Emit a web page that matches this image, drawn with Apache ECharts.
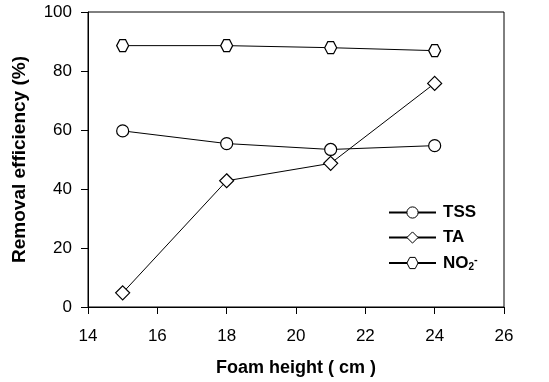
<!DOCTYPE html>
<html>
<head>
<meta charset="utf-8">
<script src="https://cdn.jsdelivr.net/npm/echarts@6/dist/echarts.min.js"></script>
<style>
  html, body { margin: 0; padding: 0; background: #fff; }
  #main { width: 549px; height: 382px; }
</style>
</head>
<body>
<div id="main"></div>
<script>
// foam height (cm)
var foamHeight = [15, 18, 21, 24];
// removal efficiency (%)
var tssValues = [59.7, 55.4, 53.4, 54.7];
var taValues = [4.8, 42.8, 48.7, 75.8];
var no2Values = [88.6, 88.6, 87.9, 86.9];
var seriesNames = ['TSS', 'TA', 'NO2'];

var hexagon = 'path://M0,5 L2.6,0.5 L7.4,0.5 L10,5 L7.4,9.5 L2.6,9.5 Z';

function pairs(xs, ys) {
    var out = [];
    for (var i = 0; i < xs.length; i++) {
        out.push([xs[i], ys[i]]);
    }
    return out;
}

function lineSeries(name, values, symbol, size) {
    return {
        name: name,
        type: 'line',
        data: pairs(foamHeight, values),
        symbol: symbol,
        symbolSize: size,
        showAllSymbol: true,
        lineStyle: { color: '#000', width: 1 },
        itemStyle: { color: '#fff', borderColor: '#000', borderWidth: 1.2 },
        emphasis: { disabled: true },
        animation: false
    };
}

var chart = echarts.init(document.getElementById('main'));

var option = {
    backgroundColor: '#fff',
    animation: false,
    grid: {
        left: 88, right: 45, top: 12, bottom: 75,
        outerBoundsMode: 'none',
        containLabel: false,
        show: true,
        borderColor: '#000',
        borderWidth: 1
    },
    legend: {
        orient: 'vertical',
        left: 383,
        top: 199,
        itemWidth: 47,
        itemHeight: 14,
        itemGap: 8,
        itemGap: 8,
        data: seriesNames,
        itemStyle: { borderWidth: 1 },
        formatter: function (name) {
            if (name === 'NO2') return '{a|NO}{sub|2}{sup|-}';
            return '{a|' + name + '}';
        },
        textStyle: {
            color: '#000',
            rich: {
                a: { fontFamily: 'Arial', fontWeight: 'bold', fontSize: 17, lineHeight: 18, verticalAlign: 'middle', padding: [0, 0, 0, 2] },
                sub: { fontFamily: 'Arial', fontWeight: 'bold', fontSize: 10, lineHeight: 8, verticalAlign: 'bottom' },
                sup: { fontFamily: 'Arial', fontWeight: 'bold', fontSize: 11, lineHeight: 9, verticalAlign: 'top' }
            }
        }
    },
    xAxis: {
        type: 'value',
        min: 14, max: 26, interval: 2,
        name: 'Foam height ( cm )',
        nameLocation: 'middle',
        nameGap: 52,
        nameTextStyle: { fontFamily: 'Arial', fontWeight: 'bold', fontSize: 18, color: '#000' },
        axisLine: { lineStyle: { color: '#000', width: 1 } },
        axisTick: { length: 7, lineStyle: { color: '#000' } },
        axisLabel: { margin: 21, fontFamily: 'Arial', fontSize: 17, color: '#000' },
        splitLine: { show: false }
    },
    yAxis: {
        type: 'value',
        min: 0, max: 100, interval: 20,
        name: 'Removal efficiency (%)',
        nameLocation: 'middle',
        nameGap: 59,
        nameTextStyle: { fontFamily: 'Arial', fontWeight: 'bold', fontSize: 19, color: '#000' },
        axisLine: { lineStyle: { color: '#000', width: 1 } },
        axisTick: { length: 7, lineStyle: { color: '#000' } },
        axisLabel: { margin: 16, fontFamily: 'Arial', fontSize: 17, color: '#000' },
        splitLine: { show: false }
    },
    series: [
        lineSeries('TSS', tssValues, 'circle', 12),
        lineSeries('TA', taValues, 'diamond', 14),
        lineSeries('NO2', no2Values, hexagon, 12)
    ]
};

chart.setOption(option);
</script>
</body>
</html>
